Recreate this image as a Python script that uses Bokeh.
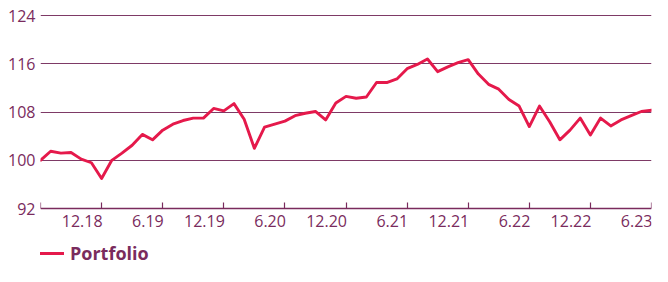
from bokeh.plotting import figure
from bokeh.models import ColumnDataSource, LabelSet, Legend, LegendItem, FixedTicker, Range1d
from bokeh.core.properties import value
from bokeh.embed import file_html
from bokeh.resources import INLINE

# month index 0 = end of June 2018 ... 60 = end of June 2023
months = list(range(61))
portfolio = [
    100.0, 101.5, 101.2, 101.3, 100.2, 99.6, 97.0, 100.0, 101.2, 102.5,
    104.3, 103.4, 105.0, 106.0, 106.6, 107.0, 107.0, 108.6, 108.2, 109.4,
    106.8, 102.0, 105.5, 106.0, 106.5, 107.4, 107.8, 108.1, 106.7, 109.5,
    110.6, 110.3, 110.5, 112.9, 112.9, 113.5, 115.2, 115.9, 116.8, 114.7,
    115.5, 116.2, 116.7, 114.3, 112.6, 111.8, 110.1, 109.0, 105.6, 109.0,
    106.4, 103.4, 105.0, 107.0, 104.2, 107.0, 105.7, 106.7, 107.4, 108.1,
    108.3,
]
tick_months = [0, 6, 12, 18, 24, 30, 36, 42, 48, 54, 60]
label_months = [6, 12, 18, 24, 30, 36, 42, 48, 54, 60]
tick_labels = ["12.18", "6.19", "12.19", "6.20", "12.20", "6.21", "12.21", "6.22", "12.22", "6.23"]
y_ticks = [92, 100, 108, 116, 124]
series_name = "Portfolio"

PLUM = "#7A2B5D"
GRID = "#7E3A66"
RED = "#E5194B"
FONT = "Open Sans"

p = figure(width=652, height=266, output_backend="svg", toolbar_location=None,
           x_range=Range1d(0, 60), y_range=Range1d(82.4, 126.0),
           min_border_left=40, min_border_right=1, min_border_top=3, min_border_bottom=0)
p.outline_line_color = None
p.background_fill_color = "white"
p.border_fill_color = "white"

# y axis
p.yaxis.ticker = FixedTicker(ticks=y_ticks)
p.yaxis.axis_line_color = None
p.yaxis.major_tick_line_color = None
p.yaxis.major_tick_in = 0
p.yaxis.major_tick_out = 0
p.yaxis.minor_tick_line_color = None
p.yaxis.major_label_text_font = FONT
p.yaxis.major_label_text_font_size = "16px"
p.yaxis.major_label_text_color = PLUM
p.yaxis.major_label_standoff = 5

p.ygrid.ticker = FixedTicker(ticks=y_ticks[1:])
p.ygrid.grid_line_color = GRID
p.ygrid.grid_line_width = 1
p.xgrid.grid_line_color = None

# x axis drawn at the 92 level
p.xaxis.fixed_location = y_ticks[0]
p.xaxis.ticker = FixedTicker(ticks=tick_months)
p.xaxis.axis_line_color = PLUM
p.xaxis.axis_line_width = 1.3
p.xaxis.major_tick_line_color = PLUM
p.xaxis.major_tick_line_width = 1.2
p.xaxis.major_tick_in = 6
p.xaxis.major_tick_out = 0
p.xaxis.minor_tick_line_color = None
p.xaxis.major_label_text_color = None
p.xaxis.major_label_text_font_size = "1px"

src = ColumnDataSource(dict(x=months, y=portfolio))
r = p.line("x", "y", source=src, line_color=RED, line_width=2.9, line_join="round", line_cap="round")

lab_src = ColumnDataSource(dict(x=label_months, text=tick_labels))
labels = LabelSet(x="x", y=y_ticks[0], text="text", source=lab_src,
                  text_align="right", text_baseline="top", x_offset=1, y_offset=-6,
                  text_font=value(FONT), text_font_size=value("16px"), text_color=PLUM)
p.add_layout(labels)

legend = Legend(items=[LegendItem(label=series_name, renderers=[r])],
                location=(0, 1), orientation="horizontal",
                border_line_color=None, background_fill_alpha=0,
                padding=0, margin=0, glyph_width=24, glyph_height=20,
                label_standoff=6,
                label_text_font=FONT, label_text_font_size="18px",
                label_text_font_style="bold", label_text_color=PLUM)
p.add_layout(legend)

open("out.html", "w").write(file_html(p, INLINE))
